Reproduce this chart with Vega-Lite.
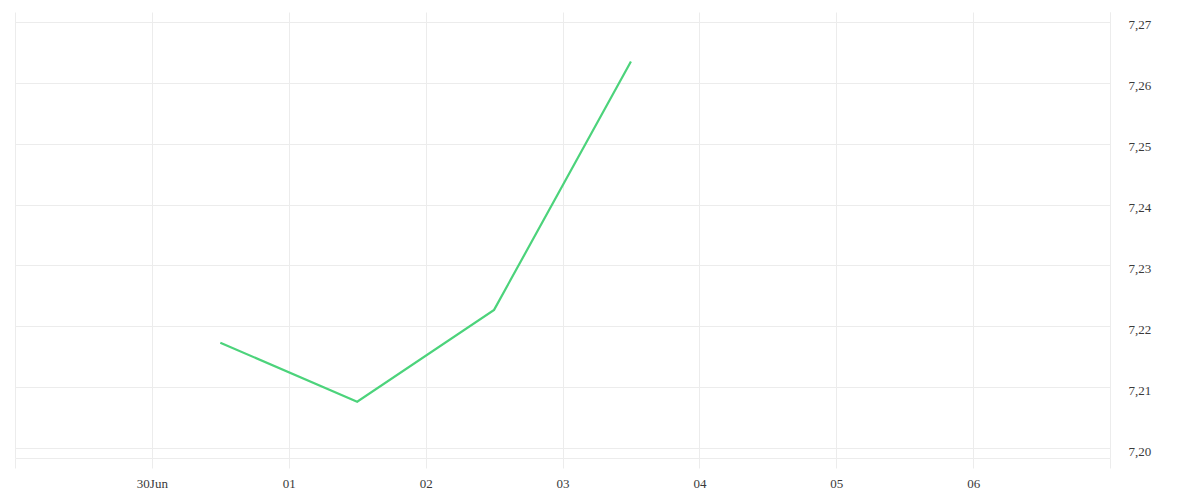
{
  "$schema": "https://vega.github.io/schema/vega-lite/v6.json",
  "autosize": {"type": "none"},
  "width": 1095,
  "height": 446,
  "padding": {"left": 15, "top": 12, "right": 90, "bottom": 42},
  "background": "white",
  "config": {
    "view": {"stroke": null},
    "axis": {"labelFont": "Liberation Serif", "labelFontSize": 13, "labelColor": "#3a3a3a", "gridColor": "#ececec", "domainColor": "#ececec", "tickColor": "#ececec"}
  },
  "data": {
    "values": [
      {"date": "2024-06-30T12:00:00Z", "value": 7.2173},
      {"date": "2024-07-01T12:00:00Z", "value": 7.2076},
      {"date": "2024-07-02T12:00:00Z", "value": 7.2227},
      {"date": "2024-07-03T12:00:00Z", "value": 7.2635}
    ]
  },
  "mark": {"type": "line", "color": "#4cd37b", "strokeWidth": 2.2},
  "encoding": {
    "x": {
      "field": "date",
      "type": "temporal",
      "scale": {"type": "utc", "domain": ["2024-06-29T00:00:00Z", "2024-07-07T00:00:00Z"], "nice": false},
      "axis": {
        "title": null,
        "grid": true,
        "tickCount": {"interval": "day", "step": 1},
        "tickSize": 10,
        "labelPadding": 9,
        "labelFlush": false,
        "labelOverlap": false,
        "labelExpr": "utcdate(datum.value) == 29 && utcmonth(datum.value) == 5 ? '' : (utcdate(datum.value) == 7 ? '' : (utcdate(datum.value) == 30 ? '30Jun' : utcFormat(datum.value, '%d')))"
      }
    },
    "y": {
      "field": "value",
      "type": "quantitative",
      "scale": {"domain": [7.19836, 7.27164], "nice": false, "zero": false},
      "axis": {
        "title": null,
        "orient": "right",
        "grid": true,
        "values": [7.20, 7.21, 7.22, 7.23, 7.24, 7.25, 7.26, 7.27],
        "ticks": false,
        "labelPadding": 18,
        "labelAlign": "left",
        "labelOffset": 3,
        "labelExpr": "replace(format(datum.value, '.2f'), '.', ',')"
      }
    }
  }
}
